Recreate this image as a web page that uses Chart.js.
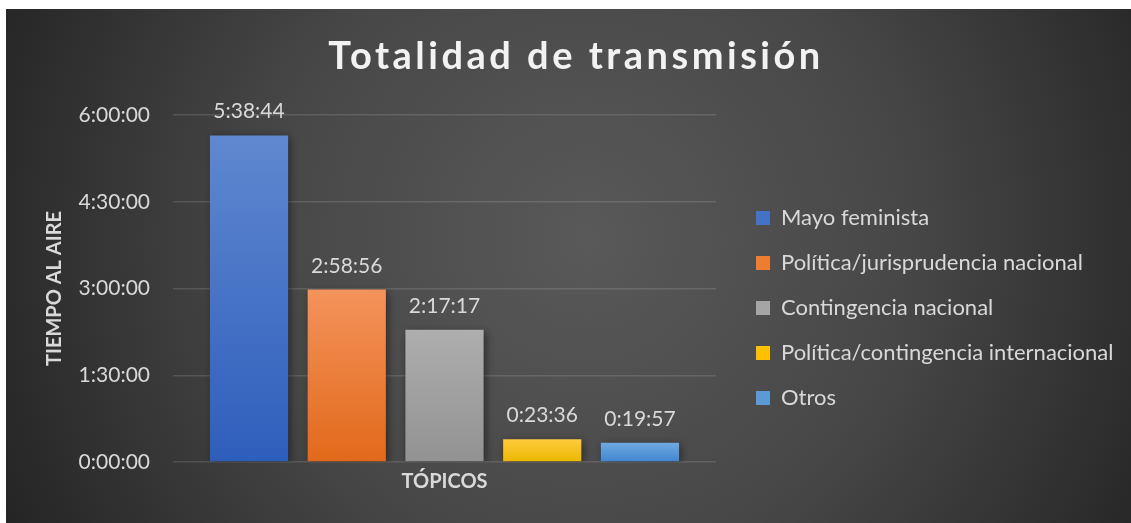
<!DOCTYPE html>
<html>
<head>
<meta charset="utf-8">
<script src="https://cdn.jsdelivr.net/npm/chart.js@4.4.1/dist/chart.umd.min.js"></script>
<style>
	html, body { margin: 0; padding: 0; background: #ffffff; }
	#wrap { position: absolute; left: 6px; top: 9px; width: 1125px; height: 514px; }
</style>
</head>
<body>
<div id="wrap"><canvas id="transmision_chart"></canvas></div>
<script>
// topics and time on air (seconds)
const topicos = ['Mayo feminista', 'Política/jurisprudencia nacional', 'Contingencia nacional', 'Política/contingencia internacional', 'Otros'];
const tiempo_segundos = [20324, 10736, 8237, 1416, 1197]; // 5:38:44, 2:58:56, 2:17:17, 0:23:36, 0:19:57
const y_ticks = [0, 5400, 10800, 16200, 21600]; // 0:00:00 .. 6:00:00

const color_top = ['#6088d0', '#f4935c', '#aeaeae', '#ffcc3d', '#70a9e3'];
const color_bottom = ['#2e5ebc', '#e2691a', '#929292', '#eab600', '#3f86cf'];
const color_legend = ['#4472c4', '#ed7d31', '#a5a5a5', '#ffc000', '#5b9bd5'];

const text_color = '#d9d9d9';
const font_family = 'Lato, "Open Sans", sans-serif';
const legend_x = 750;
const legend_pad = 23;

function hms(sec) {
	const h = Math.floor(sec / 3600);
	const m = Math.floor((sec % 3600) / 60);
	const s = sec % 60;
	return h + ':' + String(m).padStart(2, '0') + ':' + String(s).padStart(2, '0');
}

function bar_fill(i) {
	return function (ctx) {
		const chart = ctx.chart;
		const y = chart.scales.y;
		if (!y || ctx.parsed == null) return color_legend[i];
		const top = y.getPixelForValue(ctx.parsed.y);
		const bottom = y.getPixelForValue(0);
		if (!isFinite(top) || !isFinite(bottom) || bottom - top < 1) return color_legend[i];
		const g = chart.ctx.createLinearGradient(0, top, 0, bottom);
		g.addColorStop(0, color_top[i]);
		g.addColorStop(1, color_bottom[i]);
		return g;
	};
}

const background_plugin = {
	id: 'background_plugin',
	beforeDraw(chart) {
		const {ctx, width, height} = chart;
		ctx.save();
		const g = ctx.createRadialGradient(580, 230, 0, 580, 230, 640);
		g.addColorStop(0, '#595959');
		g.addColorStop(0.5, '#474747');
		g.addColorStop(1, '#252525');
		ctx.fillStyle = g;
		ctx.fillRect(0, 0, width, height);
		// title
		ctx.fillStyle = '#f2f2f2';
		ctx.font = 'bold 38px ' + font_family;
		ctx.letterSpacing = '3.5px';
		ctx.textAlign = 'center';
		ctx.textBaseline = 'middle';
		ctx.fillText('Totalidad de transmisión', 570, 48);
		ctx.restore();
	}
};

const shadow_plugin = {
	id: 'shadow_plugin',
	beforeDatasetsDraw(chart) {
		const ctx = chart.ctx;
		ctx.save();
		ctx.shadowColor = 'rgba(0,0,0,0.45)';
		ctx.shadowBlur = 8;
		ctx.shadowOffsetX = 2;
		ctx.shadowOffsetY = 2;
	},
	afterDatasetsDraw(chart) {
		const ctx = chart.ctx;
		ctx.restore();
		ctx.save();
		ctx.fillStyle = text_color;
		ctx.font = '21px ' + font_family;
		ctx.textAlign = 'center';
		ctx.textBaseline = 'alphabetic';
		chart.data.datasets.forEach((ds, i) => {
			const bar = chart.getDatasetMeta(i).data[0];
			ctx.fillText(hms(ds.data[0]), bar.x, bar.y - 17);
		});
		ctx.restore();
	}
};

const legend_plugin = {
	id: 'legend_plugin',
	beforeLayout(chart) {
		const lg = chart.legend;
		if (lg && !lg._fixed_width) {
			const fit = lg.fit;
			lg.fit = function () {
				fit.call(this);
				this.width = 1125 - 710;
			};
			lg._fixed_width = true;
		}
	},
	afterLayout(chart) {
		const lg = chart.legend;
		lg.left = legend_x - legend_pad;
		lg.top = 175;
	}
};

const transmision_chart = new Chart(
	document.getElementById('transmision_chart').getContext('2d'),
	{
		type: 'bar',
		data: {
			labels: [''],
			datasets: topicos.map((t, i) => ({
				label: t,
				data: [tiempo_segundos[i]],
				backgroundColor: bar_fill(i),
				borderWidth: 0
			}))
		},
		options: {
			responsive: true,
			maintainAspectRatio: false,
			animation: false,
			categoryPercentage: 0.9,
			barPercentage: 0.8,
			layout: {
				padding: {left: 28, right: 0, top: 106, bottom: 24}
			},
			plugins: {
				legend: {
					position: 'right',
					align: 'start',
					labels: {
						color: text_color,
						font: {family: font_family, size: 22},
						boxWidth: 14,
						boxHeight: 14,
						padding: legend_pad,
						generateLabels(chart) {
							const items = Chart.defaults.plugins.legend.labels.generateLabels(chart);
							items.forEach((it, i) => {
								it.fillStyle = color_legend[i];
								it.strokeStyle = color_legend[i];
								it.lineWidth = 0;
							});
							return items;
						}
					}
				},
				title: {display: false},
				tooltip: {enabled: false}
			},
			scales: {
				x: {
					grid: {display: false},
					border: {display: false},
					ticks: {display: false},
					title: {
						display: true,
						text: 'TÓPICOS',
						color: text_color,
						font: {family: font_family, size: 20, weight: 'bold'},
						padding: {top: 0, bottom: 5}
					},
					afterFit(scale) { scale.height = 37; }
				},
				y: {
					min: 0,
					max: 21600,
					afterBuildTicks(scale) { scale.ticks = y_ticks.map(v => ({value: v})); },
					ticks: {
						color: text_color,
						font: {family: font_family, size: 21},
						padding: 23,
						callback: (v) => hms(v)
					},
					grid: {color: 'rgba(255,255,255,0.13)', lineWidth: 1.5, drawTicks: false},
					border: {display: false},
					title: {
						display: true,
						text: 'TIEMPO AL AIRE',
						color: text_color,
						font: {family: font_family, size: 20, weight: 'bold'},
						padding: {top: 9, bottom: 0}
					},
					afterFit(scale) { scale.width = 139; }
				}
			}
		},
		plugins: [background_plugin, shadow_plugin, legend_plugin]
	}
);
</script>
</body>
</html>
